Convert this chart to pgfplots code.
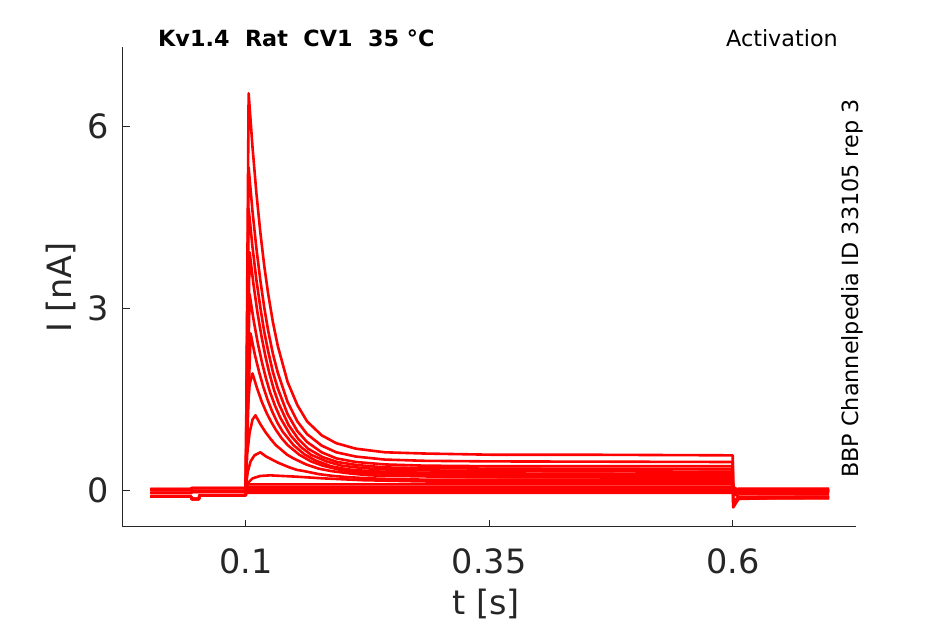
\documentclass[border=0pt]{standalone}
\usepackage{fontspec}
\setmainfont{DejaVu Sans}
\usepackage{pgfplots}
\pgfplotsset{compat=1.18}
\definecolor{axgray}{HTML}{262626}
\pgfplotsset{tr/.style={color=red, line width=2.6pt, line join=round, mark=none}}
\begin{document}
\fontsize{33.5}{40}\selectfont
\begin{tikzpicture}
\path[use as bounding box] (-122.7pt,-97.3pt) rectangle (822.3pt,526.7pt);
\begin{axis}[
  at={(0,0)}, anchor=south west,
  scale only axis, width=733.3pt, height=480pt,
  xmin=-0.0263, xmax=0.7266, ymin=-0.597, ymax=7.32,
  axis x line*=bottom, axis y line*=left,
  axis line style={axgray, line width=1.1pt, -},
  tick align=inside, major tick length=7pt,
  tick style={axgray, line width=1.1pt},
  xtick={0.1,0.35,0.6}, xticklabels={0.1,0.35,0.6},
  ytick={0,3,6}, yticklabels={0,3,6},
  /pgf/number format/assume math mode=true,
  ticklabel style={text=axgray},
  yticklabel style={anchor=east, inner sep=0pt, xshift=-13.5pt},
  xticklabel style={anchor=north, inner sep=0pt, yshift=-21.3pt},
  xlabel={t [s]}, ylabel={I [nA]},
  label style={text=axgray, inner sep=0pt},
  xlabel style={at={(axis description cs:0.4954,-0.1819)}, anchor=base},
  ylabel style={at={(axis description cs:-0.0695,0.4983)}, anchor=base},
  clip=false,
]
% trace 1
\addplot[tr] coordinates {(0.002,-0.10)(0.044,-0.10)(0.0445,-0.14)(0.052,-0.14)(0.0525,-0.08)(0.1,-0.08)(0.103,6.55)(0.107,5.66)(0.111,4.90)(0.115,4.26)(0.119,3.71)(0.123,3.25)(0.128,2.77)(0.133,2.38)(0.143,1.79)(0.153,1.41)(0.163,1.14)(0.178,0.91)(0.193,0.78)(0.213,0.69)(0.243,0.63)(0.283,0.61)(0.353,0.59)(0.45,0.59)(0.6,0.58)(0.6005,-0.28)(0.606,-0.14)(0.65,-0.12)(0.699,-0.12)};
% trace 2
\addplot[tr] coordinates {(0.002,-0.04)(0.044,-0.04)(0.0445,-0.02)(0.1,-0.02)(0.103,5.33)(0.107,4.60)(0.111,3.99)(0.115,3.47)(0.119,3.02)(0.123,2.64)(0.128,2.25)(0.133,1.94)(0.143,1.46)(0.153,1.14)(0.163,0.93)(0.178,0.74)(0.193,0.63)(0.213,0.56)(0.243,0.51)(0.283,0.49)(0.353,0.48)(0.6,0.47)(0.6005,-0.2)(0.606,-0.13)(0.699,-0.12)};
% trace 3
\addplot[tr] coordinates {(0.002,0.02)(0.044,0.02)(0.0445,0.04)(0.1,0.04)(0.103,4.65)(0.107,4.01)(0.111,3.47)(0.115,3.02)(0.119,2.62)(0.123,2.30)(0.128,1.95)(0.133,1.68)(0.143,1.26)(0.153,0.98)(0.163,0.80)(0.178,0.63)(0.193,0.53)(0.213,0.47)(0.243,0.43)(0.283,0.41)(0.353,0.40)(0.6,0.40)(0.6005,-0.18)(0.606,-0.11)(0.699,-0.10)};
% trace 4
\addplot[tr] coordinates {(0.002,-0.10)(0.044,-0.10)(0.0445,-0.14)(0.052,-0.14)(0.0525,-0.08)(0.1,-0.08)(0.104,3.93)(0.108,3.40)(0.112,2.94)(0.116,2.56)(0.120,2.23)(0.124,1.95)(0.129,1.66)(0.134,1.43)(0.144,1.08)(0.154,0.85)(0.164,0.69)(0.179,0.55)(0.194,0.47)(0.214,0.42)(0.244,0.38)(0.284,0.37)(0.354,0.36)(0.6,0.35)(0.6005,-0.2)(0.606,-0.13)(0.699,-0.13)};
% trace 5
\addplot[tr] coordinates {(0.002,-0.04)(0.044,-0.04)(0.0445,-0.02)(0.1,-0.02)(0.104,3.24)(0.1082,2.80)(0.1124,2.43)(0.1166,2.12)(0.1208,1.85)(0.125,1.62)(0.1303,1.39)(0.1355,1.20)(0.146,0.91)(0.1565,0.72)(0.167,0.59)(0.1828,0.48)(0.1985,0.41)(0.2195,0.37)(0.251,0.34)(0.293,0.33)(0.367,0.32)(0.6,0.31)(0.6005,-0.08)(0.606,-0.03)(0.699,-0.02)};
% trace 6
\addplot[tr] coordinates {(0.002,0.02)(0.044,0.02)(0.0445,0.04)(0.1,0.04)(0.105,2.59)(0.1094,2.24)(0.1138,1.95)(0.1182,1.70)(0.1226,1.49)(0.127,1.31)(0.1325,1.12)(0.138,0.97)(0.149,0.75)(0.16,0.60)(0.171,0.50)(0.1875,0.40)(0.204,0.35)(0.226,0.32)(0.259,0.30)(0.303,0.29)(0.38,0.28)(0.6,0.27)(0.6005,-0.06)(0.606,0.0)(0.699,0.0)};
% trace 7
\addplot[tr] coordinates {(0.002,-0.10)(0.044,-0.10)(0.0445,-0.14)(0.052,-0.14)(0.0525,-0.08)(0.1,-0.08)(0.1015,1.2)(0.104,1.75)(0.107,1.93)(0.1118,1.68)(0.1166,1.46)(0.1214,1.28)(0.1262,1.13)(0.131,1.00)(0.137,0.86)(0.143,0.75)(0.155,0.59)(0.167,0.48)(0.179,0.41)(0.197,0.34)(0.215,0.30)(0.239,0.28)(0.275,0.26)(0.323,0.25)(0.6,0.24)(0.6005,-0.04)(0.606,0.02)(0.699,0.02)};
% trace 8
\addplot[tr] coordinates {(0.002,-0.04)(0.044,-0.04)(0.0445,-0.02)(0.1,-0.02)(0.1015,0.6)(0.104,0.95)(0.107,1.17)(0.110,1.24)(0.1152,1.09)(0.1204,0.96)(0.1256,0.85)(0.1308,0.75)(0.136,0.68)(0.1425,0.59)(0.149,0.53)(0.162,0.43)(0.175,0.36)(0.188,0.32)(0.2075,0.28)(0.227,0.25)(0.253,0.24)(0.292,0.23)(0.344,0.22)(0.6,0.21)(0.6005,-0.05)(0.606,0.0)(0.699,0.0)};
% trace 9
\addplot[tr] coordinates {(0.002,0.02)(0.044,0.02)(0.0445,0.04)(0.1,0.04)(0.102,0.3)(0.105,0.48)(0.109,0.58)(0.115,0.63)(0.121,0.56)(0.127,0.51)(0.133,0.46)(0.139,0.42)(0.145,0.38)(0.1525,0.34)(0.16,0.32)(0.175,0.27)(0.19,0.24)(0.205,0.22)(0.2275,0.20)(0.25,0.19)(0.28,0.18)(0.6,0.18)(0.6005,-0.02)(0.606,0.03)(0.699,0.03)};
% trace 10
\addplot[tr] coordinates {(0.002,-0.10)(0.044,-0.10)(0.0445,-0.14)(0.052,-0.14)(0.0525,-0.08)(0.1,-0.08)(0.102,0.12)(0.107,0.2)(0.115,0.24)(0.125,0.25)(0.15,0.23)(0.18,0.2)(0.22,0.17)(0.28,0.15)(0.35,0.14)(0.6,0.14)(0.6005,-0.03)(0.606,0.0)(0.699,0.0)};
% traces 11-15
\addplot[tr] coordinates {(0.002,-0.04)(0.044,-0.04)(0.0445,-0.02)(0.1,-0.02)(0.101,0.10)(0.6,0.10)(0.6005,-0.04)(0.606,-0.01)(0.699,-0.01)};
\addplot[tr] coordinates {(0.002,0.02)(0.044,0.02)(0.0445,0.04)(0.1,0.04)(0.101,0.06)(0.6,0.06)(0.606,0.01)(0.699,0.01)};
\addplot[tr] coordinates {(0.002,-0.10)(0.044,-0.10)(0.0445,-0.14)(0.052,-0.14)(0.0525,-0.08)(0.1,-0.08)(0.101,0.03)(0.6,0.03)(0.606,-0.05)(0.699,-0.05)};
\addplot[tr] coordinates {(0.002,-0.04)(0.044,-0.04)(0.0445,-0.02)(0.1,-0.02)(0.101,0.0)(0.6,0.0)(0.606,-0.02)(0.699,-0.02)};
\addplot[tr] coordinates {(0.002,0.02)(0.044,0.02)(0.0445,0.04)(0.1,0.04)(0.101,-0.04)(0.6,-0.04)(0.606,-0.1)(0.699,-0.1)};
\end{axis}
\node[anchor=base west, inner sep=0pt, font=\fontsize{22.3}{26}\selectfont\bfseries] at (35.3pt,480pt) {Kv1.4\ \ Rat\ \ CV1\ \ 35 °C};
\node[anchor=base east, inner sep=0pt, font=\fontsize{22.3}{26}\selectfont] at (715.3pt,480pt) {Activation};
\node[anchor=base, rotate=90, inner sep=0pt, font=\fontsize{22.3}{26}\selectfont] at (735.3pt,238.2pt) {BBP Channelpedia ID 33105 rep 3};
\end{tikzpicture}
\end{document}
